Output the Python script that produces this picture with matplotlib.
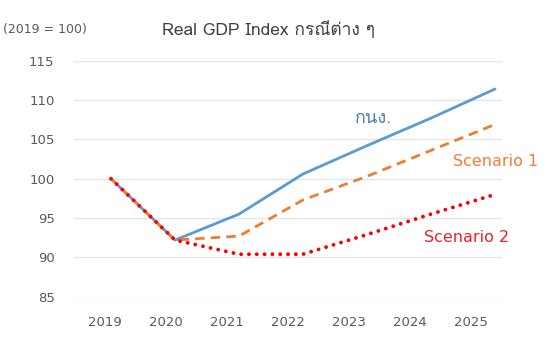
import matplotlib
matplotlib.use("Agg")
import matplotlib.pyplot as plt
from matplotlib import font_manager

# ---- data ----
years = ["2019", "2020", "2021", "2022", "2023", "2024", "2025"]
bot = [100.0, 92.2, 95.5, 100.6, 104.2, 107.7, 111.4]        # กนง.
scenario1 = [100.0, 92.2, 92.7, 97.3, 100.3, 103.6, 106.9]
scenario2 = [100.0, 92.2, 90.4, 90.4, 92.9, 95.5, 98.0]
yticks = [85, 90, 95, 100, 105, 110, 115]
title_text = "Real GDP Index กรณีต่าง ๆ"

# find a font with Thai glyphs
thai_family = None
thai_cmap = {}
try:
    from fontTools.ttLib import TTFont
    for f in font_manager.fontManager.ttflist:
        try:
            tt = TTFont(f.fname, fontNumber=0, lazy=True)
            cmap = tt.getBestCmap()
            if cmap and 0x0E01 in cmap and 0x0E13 in cmap:
                thai_family = f.name
                thai_cmap = cmap
                break
        except Exception:
            pass
except Exception:
    pass
# lowered tone mark (no shaping engine in matplotlib)
if 0xF70A in thai_cmap:
    title_text = title_text.replace("\u0E48", "\uF70A")

latin = ["DejaVu Sans"]
thai = ([thai_family] if thai_family else []) + ["DejaVu Sans"]
plt.rcParams["font.family"] = latin

W, H = 554, 361
fig = plt.figure(figsize=(W / 100, H / 100), dpi=100)
left, right = 74 / W, 502 / W
bottom, top = 1 - 296.7 / H, 1 - 60.7 / H
ax = fig.add_axes([left, bottom, right - left, top - bottom])

# category axis for labels
x = list(range(len(years)))
ax.set_xlim(-0.5, len(years) - 0.5)
ax.set_xticks(x)
ax.set_xticklabels(years)
ax.set_ylim(85, 115)
ax.set_yticks(yticks)
ax.grid(axis="y", color="#e6e6e6", linewidth=1.0)
ax.set_axisbelow(True)
for s in ax.spines.values():
    s.set_visible(False)
ax.tick_params(axis="both", length=0, labelsize=9.5, labelcolor="#595959")
ax.tick_params(axis="x", pad=14)
ax.tick_params(axis="y", pad=14)

# lines on twin axis (slightly wider spacing as in the reference)
ax2 = ax.twiny()
ax2.set_xlim((74 - 111) / 64, (502 - 111) / 64)
ax2.set_ylim(85, 115)
ax2.axis("off")
ax2.plot(x, bot, color="#5B9BD5", linewidth=2.0, solid_capstyle="round", zorder=2)
ax2.plot(x, scenario1, color="#ED7D31", linewidth=2.0, linestyle=(0, (3.4, 2.2)), zorder=3)
ax2.plot(x, scenario2, color="#FF0000", linewidth=2.8, linestyle=(0, (0.01, 2.0)),
         dash_capstyle="round", zorder=4)

fig.text(268 / W, 1 - 30 / H, title_text, ha="center", va="center",
         fontsize=12.5, color="#404040", family=thai)
fig.text(3 / W, 1 - 30 / H, "(2019 = 100)", ha="left", va="center",
         fontsize=9, color="#595959")
fig.text(374 / W, 1 - 118 / H, "กนง.", ha="center", va="center", fontsize=13,
         color="#4A7EBB", family=thai)
fig.text(496 / W, 1 - 161 / H, "Scenario 1", ha="center", va="center", fontsize=11.5, color="#F07D3A")
fig.text(467 / W, 1 - 238 / H, "Scenario 2", ha="center", va="center", fontsize=11.5, color="#F0202A")

fig.savefig("out.png", dpi=100)
